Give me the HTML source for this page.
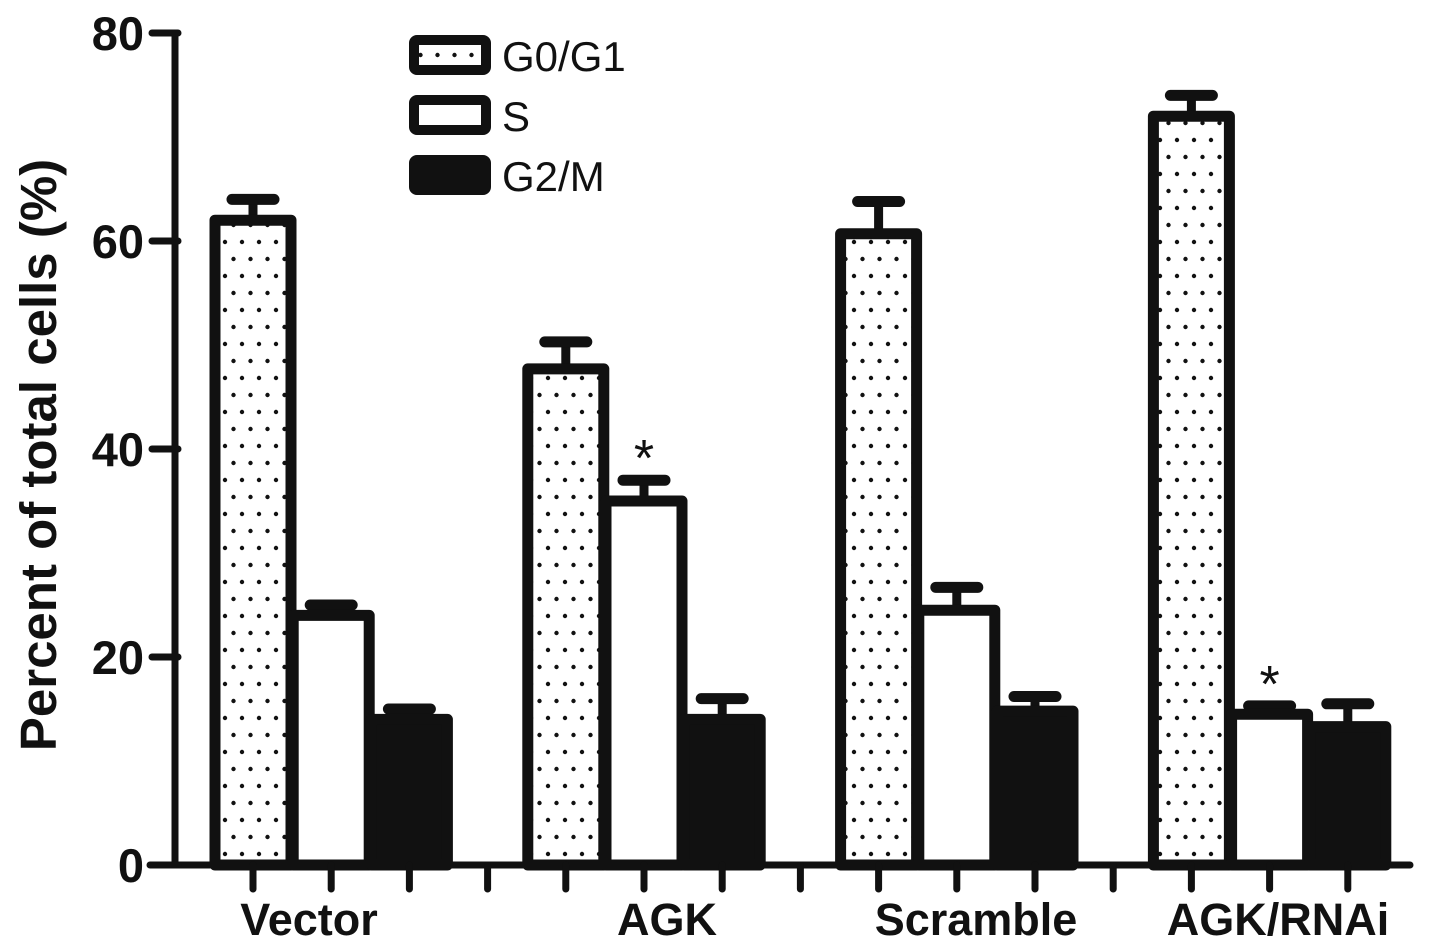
<!DOCTYPE html>
<html><head><meta charset="utf-8"><style>
html,body{margin:0;padding:0;background:#fff}
svg{display:block}
text{font-family:"Liberation Sans",Arial,sans-serif;fill:#111}
</style></head><body>
<svg id="chart" width="1441" height="950" viewBox="0 0 1441 950" xmlns="http://www.w3.org/2000/svg">
<defs>
<pattern id="dots" patternUnits="userSpaceOnUse" width="17" height="34" x="0" y="0">
<circle cx="4" cy="4" r="2.2" fill="#111"/>
<circle cx="12.5" cy="21" r="2.2" fill="#111"/>
</pattern>
</defs>
<g id="plot"></g>
</svg>
<script>
const groups = ["Vector","AGK","Scramble","AGK/RNAi"];
const seriesNames = ["G0/G1","S","G2/M"];
const g0g1 = [62, 47.7, 60.7, 72];
const g0g1Err = [2, 2.6, 3.1, 2];
const sPhase = [24, 35, 24.5, 14.5];
const sPhaseErr = [1, 2, 2.2, 0.8];
const g2m = [14, 14, 14.8, 13.3];
const g2mErr = [1, 2, 1.4, 2.2];
const yTicks = [0,20,40,60,80];
const starred = [[1,1],[3,1]];

const NS="http://www.w3.org/2000/svg";
const svg=document.getElementById('plot');
const y0=865, yTop=33, yMax=80;
function yS(v){return y0-(y0-yTop)*v/yMax;}
const firstTick=253, step=78.2;
function xC(gi,si){return firstTick+(gi*4+si)*step;}
function el(tag,attrs,parent){const e=document.createElementNS(NS,tag);for(const k in attrs)e.setAttribute(k,attrs[k]);(parent||svg).appendChild(e);return e;}

const series=[[g0g1,g0g1Err,'url(#dots)'],[sPhase,sPhaseErr,'#fff'],[g2m,g2mErr,'#111']];
const names=['g0g1','s','g2m'];
groups.forEach((g,gi)=>{
  series.forEach((s,si)=>{
    const cx=xC(gi,si), v=s[0][gi], e=s[1][gi];
    const err=el('g',{});
    
    
    el('line',{x1:cx,x2:cx,y1:yS(v),y2:yS(v+e),stroke:'#111','stroke-width':9},err);
    el('line',{x1:cx-21,x2:cx+21,y1:yS(v+e),y2:yS(v+e),stroke:'#111','stroke-width':11,'stroke-linecap':'round'},err);
    const r=el('rect',{x:cx-38,y:yS(v),width:76,height:y0-yS(v),fill:s[2],stroke:'#111','stroke-width':11,'stroke-linejoin':'round'});
    
    
  });
});
starred.forEach(([gi,si])=>{
  const arr=series[si];
  const t=el('text',{x:xC(gi,si),y:yS(arr[0][gi]+arr[1][gi])-4,'text-anchor':'middle','font-size':52});
  t.textContent='*';
  
  
});
// axes
const ya=el('line',{x1:175,x2:175,y1:yTop,y2:y0+3,stroke:'#111','stroke-width':7});


const xa=el('line',{x1:150,x2:1410,y1:y0,y2:y0,stroke:'#111','stroke-width':7,'stroke-linecap':'round'});


yTicks.forEach(t=>{
  const y=yS(t);
  el('line',{x1:152,x2:178,y1:y,y2:y,stroke:'#111','stroke-width':7,'stroke-linecap':'round'});
  const tx=el('text',{x:144,y:y+17,'text-anchor':'end','font-size':47,'font-weight':'bold'});
  tx.textContent=t;
  
  
});
for(let i=0;i<15;i++){
  const x=firstTick+i*step;
  el('line',{x1:x,x2:x,y1:y0,y2:y0+24,stroke:'#111','stroke-width':7,'stroke-linecap':'round'});
}
const labelX=[309,667,976,1278];
groups.forEach((g,gi)=>{
  const t=el('text',{x:labelX[gi],y:935,'text-anchor':'middle','font-size':45,'font-weight':'bold'});
  t.textContent=g;
  
  
});
const yt=el('text',{x:0,y:0,transform:'translate(56,455) rotate(-90)','text-anchor':'middle','font-size':51,'font-weight':'bold'});
yt.textContent='Percent of total cells (%)';


// legend
const fills=['url(#dots)','#fff','#111'];
seriesNames.forEach((n,i)=>{
  const y=40+i*60;
  const g=el('g',{});
  
  
  el('rect',{x:414,y:y,width:72,height:30,fill:fills[i],stroke:'#111','stroke-width':10,rx:3},g);
  const t=el('text',{x:502,y:y+31,'font-size':42},g);
  t.textContent=n;
});
</script>
</body></html>
